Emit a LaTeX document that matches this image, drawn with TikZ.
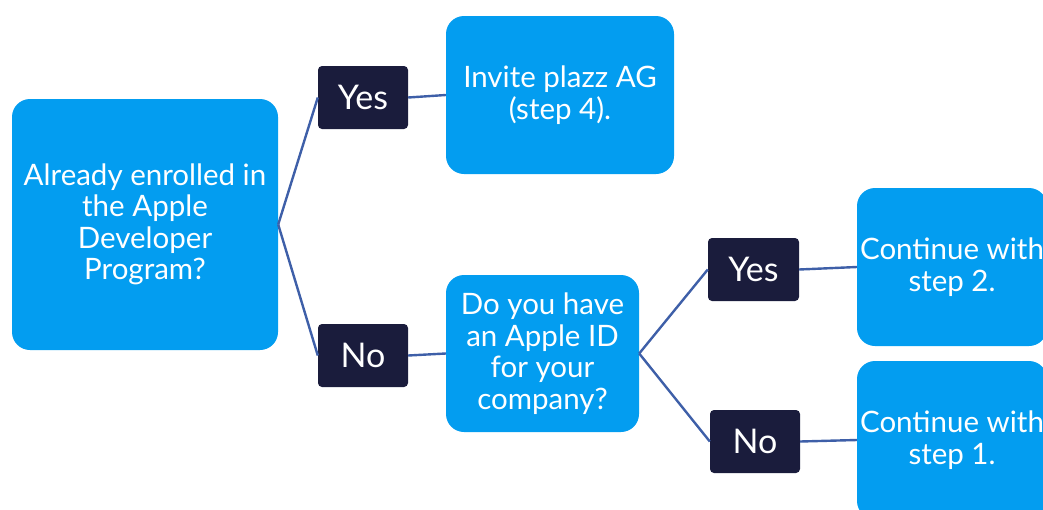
\documentclass[tikz,border=0pt]{standalone}
\usepackage{fontspec}
\setmainfont{Lato}
\definecolor{boxblue}{HTML}{039DF0}
\definecolor{darkbox}{HTML}{1A1C3C}
\definecolor{linkc}{HTML}{3E5FA8}
\tikzset{
  x=1pt,y=-1pt,
  bigbox/.style={fill=boxblue, draw=none, rounded corners=18pt, text=white, align=center,
    font=\fontsize{29.5}{31.5}\selectfont, inner sep=0pt},
  ansbox/.style={fill=darkbox, draw=none, rounded corners=4pt, text=white, align=center,
    font=\fontsize{34}{38}\selectfont, minimum width=90pt, minimum height=63pt, inner sep=0pt},
  link/.style={draw=linkc, line width=2.4pt}
}
\begin{document}
\begin{tikzpicture}
\useasboundingbox (0,0) rectangle (1043,509);
\clip (0,0) rectangle (1043,509);
\node[bigbox, minimum width=266pt, minimum height=251pt] (q1) at (145,224.5) {Already enrolled in\\the Apple\\Developer\\Program?};
\node[ansbox] (y1) at (363,97.5) {Yes};
\node[ansbox] (n1) at (363,355.5) {No};
\node[bigbox, minimum width=228pt, minimum height=158pt] (inv) at (560,95) {Invite plazz AG\\(step 4).};
\node[bigbox, minimum width=193pt, minimum height=157pt] (q2) at (542.5,353.5) {Do you have\\an Apple ID\\for your\\company?};
\node[ansbox, minimum width=91pt] (y2) at (753.5,269.5) {Yes};
\node[ansbox] (n2) at (755,441.5) {No};
\node[bigbox, minimum width=190pt, minimum height=158pt] (c2) at (952,267) {Continue with\\step 2.};
\node[bigbox, minimum width=190pt, minimum height=158pt] (c1) at (952,440) {Continue with\\step 1.};
\draw[link] (q1.east) -- (y1.west);
\draw[link] (q1.east) -- (n1.west);
\draw[link] (y1.east) -- (inv.west);
\draw[link] (n1.east) -- (q2.west);
\draw[link] (q2.east) -- (y2.west);
\draw[link] (q2.east) -- (n2.west);
\draw[link] (y2.east) -- (c2.west);
\draw[link] (n2.east) -- (c1.west);
\end{tikzpicture}
\end{document}
